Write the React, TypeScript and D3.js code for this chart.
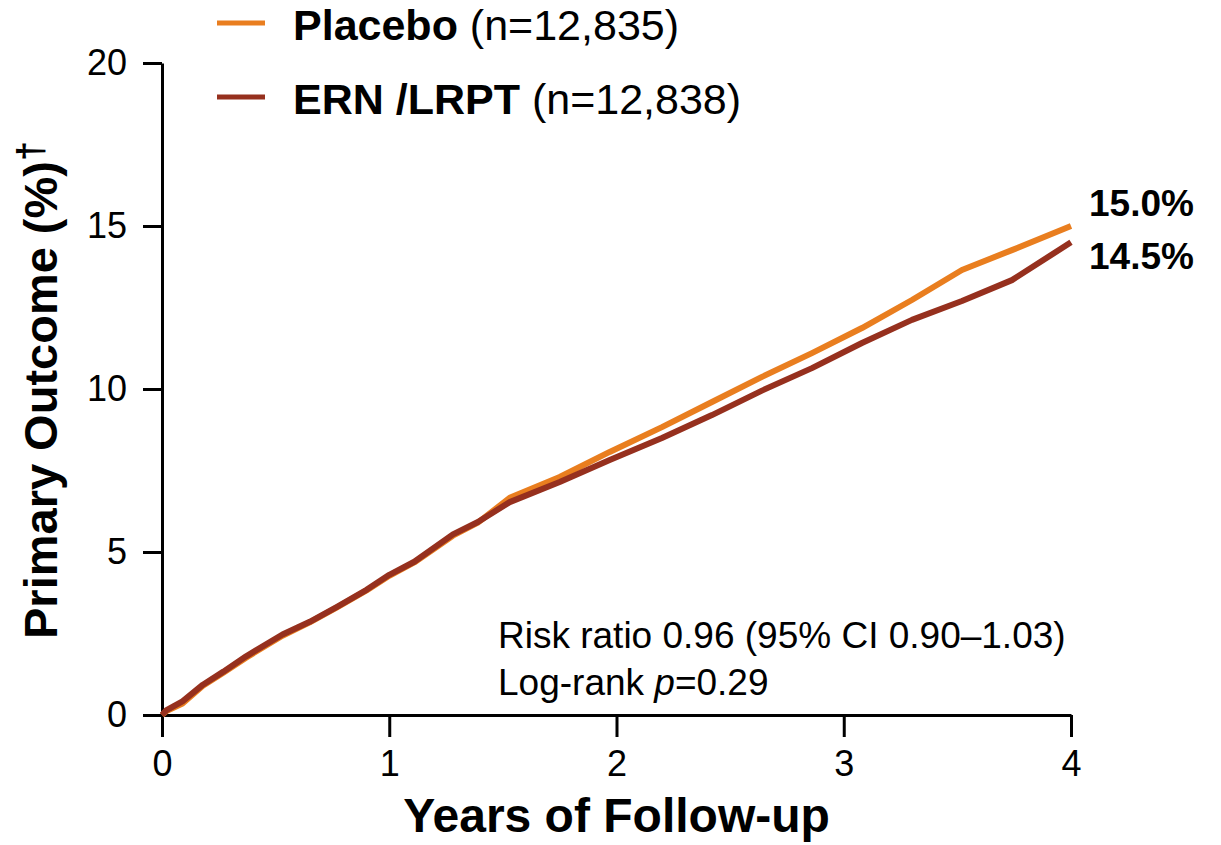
import * as d3 from "d3";
import { useEffect, useRef } from "react";

const years = [0, 0.02, 0.09, 0.18, 0.27, 0.37, 0.53, 0.65, 0.77, 0.9, 1.0, 1.11, 1.28, 1.39, 1.53, 1.75, 1.97, 2.2, 2.42, 2.64, 2.86, 3.08, 3.3, 3.52, 3.74, 4.0];
const placebo = [0, 0.12, 0.35, 0.9, 1.3, 1.76, 2.43, 2.84, 3.3, 3.82, 4.27, 4.68, 5.5, 5.9, 6.66, 7.3, 8.07, 8.83, 9.6, 10.37, 11.1, 11.87, 12.73, 13.65, 14.26, 15.0];
const ernLrpt = [0, 0.15, 0.42, 0.93, 1.33, 1.8, 2.47, 2.86, 3.32, 3.84, 4.3, 4.7, 5.54, 5.92, 6.53, 7.15, 7.82, 8.5, 9.2, 9.95, 10.64, 11.41, 12.12, 12.7, 13.34, 14.5];

const xTicks = [0, 1, 2, 3, 4];
const yTicks = [0, 5, 10, 15, 20];

const seriesNames = ["Placebo", "ERN /LRPT"];
const seriesN = ["(n=12,835)", "(n=12,838)"];
const endLabels = ["15.0%", "14.5%"];
const colors = ["#e97e1f", "#96301e"];

export default function KaplanMeierChart() {
  const ref = useRef<SVGSVGElement>(null);

  useEffect(() => {
    if (!ref.current) return;
    const el = ref.current;
    d3.select(el).selectAll("*").remove();

    const W = 1221;
    const H = 845;
    const font = "'Liberation Sans', Arial, Helvetica, sans-serif";
    const margin = { top: 63, right: 150, bottom: 130, left: 162 };
    const w = W - margin.left - margin.right;
    const h = H - margin.top - margin.bottom;

    const svg = d3.select(el).attr("width", W).attr("height", H).attr("viewBox", `0 0 ${W} ${H}`);
    const g = svg.append("g").attr("transform", `translate(${margin.left},${margin.top})`);

    const x = d3.scaleLinear().domain([0, 4]).range([0, w]);
    const y = d3.scaleLinear().domain([0, 20]).range([h, 0]);

    // axes
    const yAxis = g
      .append("g")
      .call(d3.axisLeft(y).tickValues(yTicks).tickSize(19).tickSizeOuter(0).tickPadding(16).tickFormat(d3.format("d")));
    const xAxis = g
      .append("g")
      .attr("transform", `translate(0,${h})`)
      .call(d3.axisBottom(x).tickValues(xTicks).tickSize(22).tickSizeOuter(0).tickPadding(13).tickFormat(d3.format("d")));

    [yAxis, xAxis].forEach(ax => {
      ax.select(".domain").attr("stroke", "#000").attr("stroke-width", 3);
      ax.selectAll(".tick line").attr("stroke", "#000").attr("stroke-width", 3);
      ax.selectAll(".tick text").attr("fill", "#000").attr("font-size", 36).attr("font-family", font);
    });

    // curves
    const seriesData = [placebo, ernLrpt];
    const line = d3
      .line<number>()
      .x((_, i) => x(years[i]))
      .y(d => y(d));

    seriesData.forEach((vals, k) => {
      g.append("path")
        .datum(vals)
        .attr("fill", "none")
        .attr("stroke", colors[k])
        .attr("stroke-width", 6)
        .attr("stroke-linejoin", "round")
        .attr("d", line);
    });

    // end labels
    const endY = [-10, 43];
    endLabels.forEach((t, k) => {
      g.append("text")
        .attr("x", w + 18)
        .attr("y", y(15) + endY[k])
        .attr("font-family", font)
        .attr("font-size", 37)
        .attr("font-weight", 700)
        .attr("fill", "#000")
        .text(t);
    });

    // annotation
    const ann = g.append("text").attr("font-family", font).attr("font-size", 37).attr("fill", "#000");
    ann.append("tspan").attr("x", 336).attr("y", 585).text("Risk ratio 0.96 (95% CI 0.90\u20131.03)");
    const l2 = ann.append("tspan").attr("x", 336).attr("y", 632);
    l2.append("tspan").text("Log-rank ");
    l2.append("tspan").attr("font-style", "italic").text("p");
    l2.append("tspan").text("=0.29");

    // axis titles
    svg
      .append("text")
      .attr("x", margin.left + w / 2)
      .attr("y", 832)
      .attr("text-anchor", "middle")
      .attr("font-family", font)
      .attr("font-size", 48)
      .attr("font-weight", 700)
      .attr("fill", "#000")
      .text("Years of Follow-up");

    const yt = svg
      .append("text")
      .attr("transform", "translate(57,390) rotate(-90)")
      .attr("text-anchor", "middle")
      .attr("font-family", font)
      .attr("font-size", 47)
      .attr("font-weight", 700)
      .attr("fill", "#000");
    yt.append("tspan").text("Primary Outcome (%)");
    yt.append("tspan").attr("font-size", 36).attr("dy", -14).text("\u2020");

    // legend
    const legY = [23, 97];
    seriesNames.forEach((name, k) => {
      svg
        .append("line")
        .attr("x1", 217)
        .attr("x2", 265)
        .attr("y1", legY[k])
        .attr("y2", legY[k])
        .attr("stroke", colors[k])
        .attr("stroke-width", 5);
      const t = svg
        .append("text")
        .attr("x", 293)
        .attr("y", legY[k] + 17)
        .attr("font-family", font)
        .attr("font-size", 43)
        .attr("fill", "#000");
      t.append("tspan").attr("font-weight", 700).text(name);
      t.append("tspan").text(" " + seriesN[k]);
    });
  }, []);

  return <svg ref={ref} style={{ position: "absolute", left: 0, top: 0, display: "block" }} />;
}
